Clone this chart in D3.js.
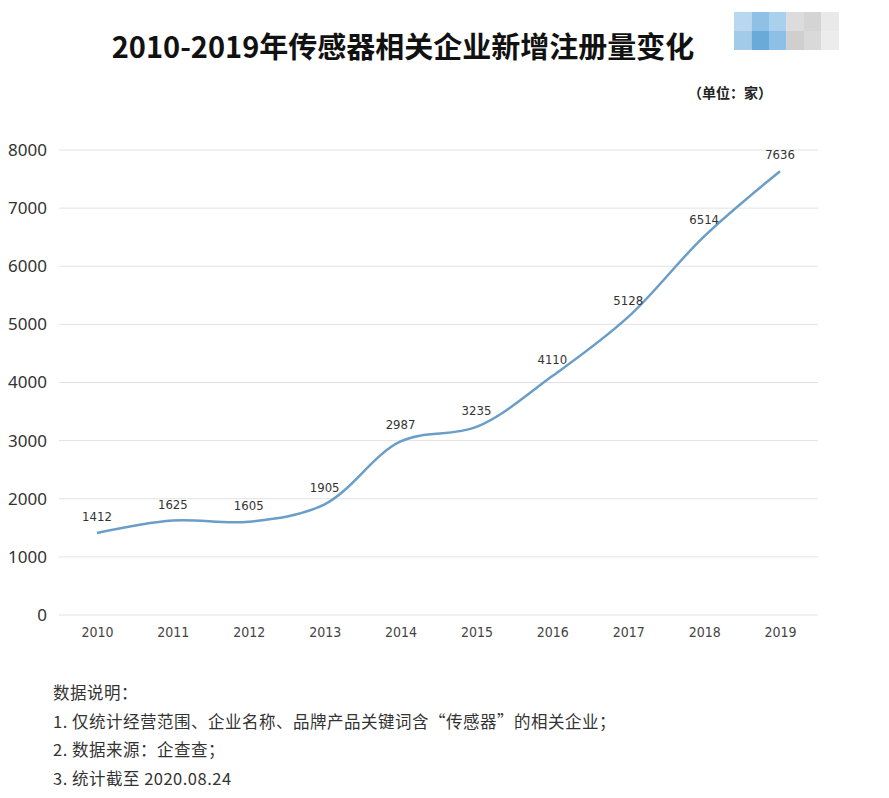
<!DOCTYPE html>
<html><head><meta charset="utf-8">
<script src="https://cdn.jsdelivr.net/npm/d3@7"></script>
<style>body{margin:0;background:#fff;}svg{display:block;}</style>
</head><body>
<script>
const years = ["2010","2011","2012","2013","2014","2015","2016","2017","2018","2019"];
const counts = [1412,1625,1605,1905,2987,3235,4110,5128,6514,7636];
const yTicks = [0,1000,2000,3000,4000,5000,6000,7000,8000];
const titleText = "2010-2019年传感器相关企业新增注册量变化";
const unitText = "（单位：家）";
const notes = ["数据说明：","1. 仅统计经营范围、企业名称、品牌产品关键词含“传感器”的相关企业；","2. 数据来源：企查查；","3. 统计截至 2020.08.24"];
const mosaicColors = [["#b9d8ef","#8fc1e6","#a9d0ec","#dcdcdc","#d4d4d4","#e9e9e9"],["#a2cbea","#6aaad9","#8cc0e6","#cfcfcf","#d9d9d9","#ececec"]];

const W=889,H=798;
const svg=d3.select("body").append("svg").attr("width",W).attr("height",H);
const font="'Noto Sans CJK SC','Noto Sans',sans-serif";

mosaicColors.forEach((row,ri)=>row.forEach((c,ci)=>{
  svg.append("rect").attr("x",734+ci*17.5).attr("y",12+ri*19).attr("width",17.5).attr("height",19).attr("fill",c);
}));

svg.append("text").attr("x",403).attr("y",58).attr("text-anchor","middle")
  .attr("font-family",font).attr("font-weight","bold").attr("font-size",29).attr("fill","#111").text(titleText);
svg.append("text").attr("x",772).attr("y",98).attr("text-anchor","end")
  .attr("font-family",font).attr("font-weight","bold").attr("font-size",14).attr("fill","#222").text(unitText);

const x=d3.scalePoint().domain(years).range([59,818]).padding(0.5);
const y=d3.scaleLinear().domain([0,8000]).range([615,150]);

svg.append("g").selectAll("line").data(yTicks).join("line")
  .attr("x1",59).attr("x2",818).attr("y1",d=>y(d)).attr("y2",d=>y(d))
  .attr("stroke","#e2e2e2").attr("stroke-width",1);

const ya=svg.append("g").attr("transform","translate(59,0)").call(d3.axisLeft(y).tickValues(yTicks).tickSize(0).tickPadding(12).tickFormat(d3.format("d")));
ya.select(".domain").remove();
ya.selectAll("text").attr("font-family","'Noto Sans',sans-serif").attr("font-size",17).attr("fill","#333");

const xa=svg.append("g").attr("transform","translate(0,615)").call(d3.axisBottom(x).tickSize(0).tickPadding(12));
xa.select(".domain").remove();
xa.selectAll("text").attr("font-family","'Liberation Sans Narrow','DejaVu Sans Condensed',sans-serif").attr("font-size",14).attr("fill","#444");

const data=years.map((yr,i)=>({yr,v:counts[i]}));
svg.append("path").datum(data).attr("fill","none").attr("stroke","#6a9ec8").attr("stroke-width",2.5)
  .attr("d",d3.line().x(d=>x(d.yr)).y(d=>y(d.v)).curve(d3.curveCatmullRom.alpha(0.5)));

svg.selectAll("text.lbl").data(data).join("text").attr("class","lbl")
  .attr("x",d=>x(d.yr)).attr("y",d=>y(d.v)-12).attr("text-anchor","middle")
  .attr("font-family","'Liberation Sans Narrow','DejaVu Sans Condensed',sans-serif").attr("font-size",13).attr("fill","#333").text(d=>d.v);

const ny=[699,728,756,785];
notes.forEach((t,i)=>svg.append("text").attr("x",53).attr("y",ny[i]).attr("font-family",font).attr("font-size",16.5).attr("letter-spacing",0.5).attr("fill","#333").text(t));
</script>
</body></html>
